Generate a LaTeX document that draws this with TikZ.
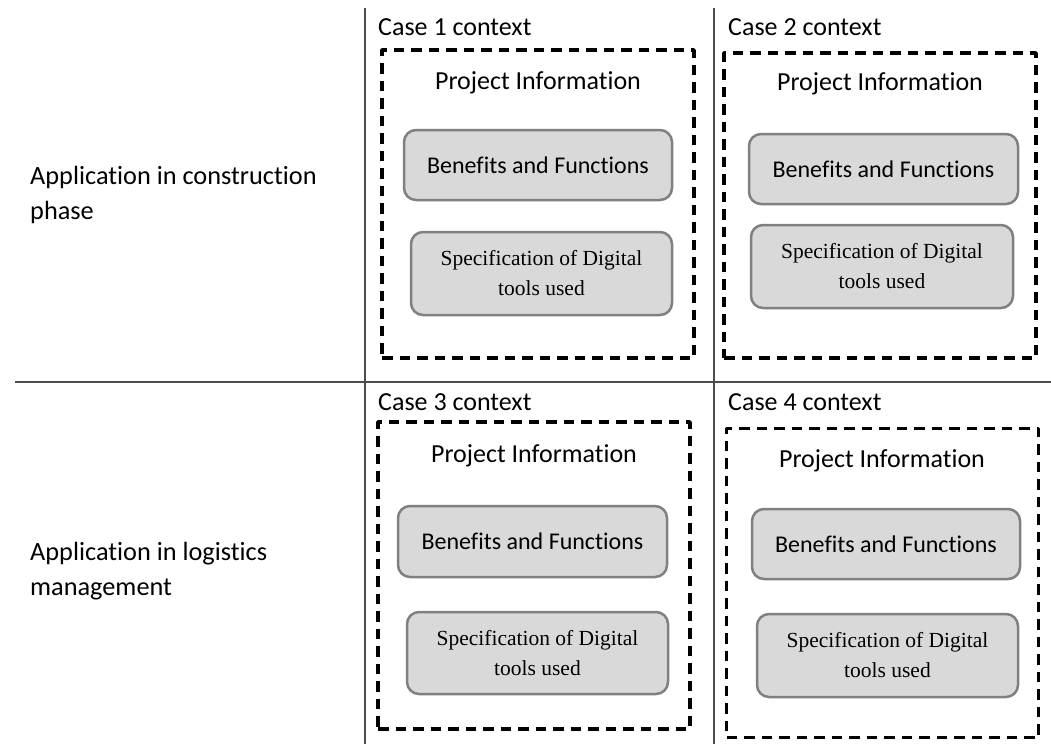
\documentclass[tikz,border=0pt]{standalone}
\usepackage{fontspec}
\setmainfont{Carlito}[Ligatures=NoCommon]
\newfontfamily\timesfont{Liberation Serif}
\tikzset{
	casebox/.style={draw, line width=3.6pt, dash pattern=on 10.5pt off 7pt, inner sep=0pt},
	item/.style={draw=black!50, fill=black!15, line width=2.5pt, rounded corners=12pt, inner sep=0pt,
		minimum width=268pt, minimum height=70pt, font=\fontsize{24}{29}\selectfont},
	spec/.style={item, minimum width=261pt, minimum height=83pt, align=center,
		font=\timesfont\fontsize{21.5}{30}\selectfont},
	casename/.style={anchor=base west, inner sep=0pt, font=\fontsize{26}{32}\selectfont},
	info/.style={anchor=base, inner sep=0pt, font=\fontsize{26}{32}\selectfont},
	phase/.style={anchor=west, align=left, inner sep=0pt, font=\fontsize{26.3}{35}\selectfont},
	rule/.style={draw=black!70, line width=1.2pt}
}
\begin{document}
\begin{tikzpicture}[x=1pt, y=-1pt, line join=round]
	\path[use as bounding box, fill=white] (0,0) rectangle (1051,744);
	% table rules
	\draw[rule] (15,382) -- (1051,382);
	\foreach \x in {365,714} {\draw[rule] (\x,8) -- (\x,744);}
	% row headings
	\node[phase] (row1) at (30,195) {Application in construction\\phase};
	\node[phase] (row2) at (30,571) {Application in logistics\\management};
	% case 1
	\node[casename] (case1) at (378,35) {Case 1 context};
	\node[casebox, minimum width=312pt, minimum height=308pt] (frame1) at (538,204) {};
	\node[info] (info1) at (538,89) {Project Information};
	\node[item] (ben1) at (538,165) {Benefits and Functions};
	\node[spec] (spec1) at (541.5,273.5) {Specification of Digital\\tools used};
	% case 2
	\node[casename] (case2) at (728,35) {Case 2 context};
	\node[casebox, minimum width=312pt, minimum height=305pt] (frame2) at (880,205.5) {};
	\node[info] (info2) at (880,90) {Project Information};
	\node[item, minimum width=269pt] (ben2) at (883.5,169) {Benefits and Functions};
	\node[spec, minimum width=262pt] (spec2) at (882,266.5) {Specification of Digital\\tools used};
	% case 3
	\node[casename] (case3) at (378,410) {Case 3 context};
	\node[casebox, minimum width=312pt, minimum height=307pt] (frame3) at (534,575.5) {};
	\node[info] (info3) at (534,462) {Project Information};
	\node[item, minimum width=269pt, minimum height=71pt] (ben3) at (532.5,541.5) {Benefits and Functions};
	\node[spec, minimum height=82pt] (spec3) at (537.5,653) {Specification of Digital\\tools used};
	% case 4
	\node[casename] (case4) at (728,410) {Case 4 context};
	\node[casebox, minimum width=312pt, minimum height=309pt] (frame4) at (882.5,583) {};
	\node[info] (info4) at (882,467) {Project Information};
	\node[item] (ben4) at (886,544) {Benefits and Functions};
	\node[spec] (spec4) at (887.5,655.5) {Specification of Digital\\tools used};
\end{tikzpicture}
\end{document}
